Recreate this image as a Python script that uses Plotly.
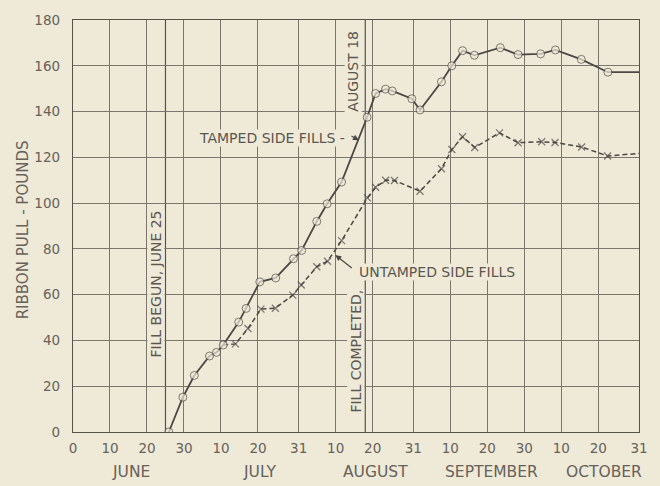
import plotly.graph_objects as go

# Day numbers counted from May 31 (June d = d, July d = 30+d, Aug d = 61+d, Sep d = 92+d, Oct d = 122+d)
tamped_days = [25.9, 29.7, 32.8, 36.9, 38.8, 40.6, 44.8, 46.8, 50.5, 54.8, 59.6, 61.8, 65.9, 68.7,
               72.6, 79.5, 81.8, 84.5, 86.3, 91.6, 93.8, 99.6, 102.4, 105.3, 108.5, 115.5, 120.3,
               126.4, 130.4, 137.4, 144.6, 153]
tamped_vals = [0, 15.2, 24.7, 33.2, 34.8, 38, 48, 54, 65.6, 67.3, 75.7, 79.3, 92, 99.7,
               109.2, 137.5, 147.9, 149.8, 149, 145.6, 140.7, 153, 160, 166.6, 164.6, 167.9, 164.9,
               165.2, 166.9, 162.8, 157.2, 157.2]

untamped_days = [40.6, 43.9, 47.3, 50.8, 54.7, 59.4, 61.7, 65.9, 68.8, 72.6, 79.6, 81.8, 84.5, 86.9,
                 93.8, 99.6, 102.4, 105.3, 108.6, 115.3, 120.3, 126.7, 130.3, 137.5, 144.5, 153]
untamped_vals = [38, 38.5, 45.2, 53.7, 54.1, 59.8, 64.2, 72.2, 74.6, 83.6, 102.3, 106.9, 110, 109.9,
                 105.2, 115, 123.4, 129, 124.3, 130.7, 126.4, 126.8, 126.5, 124.5, 120.6, 121.7]

tick_days = [0, 10, 20, 30, 40, 50, 61, 71, 81, 92, 102, 112, 122, 132, 142, 153]
tick_text = ["0", "10", "20", "30", "10", "20", "31", "10", "20", "31", "10", "20", "30", "10", "20", "31"]

months = ["JUNE", "JULY", "AUGUST", "SEPTEMBER", "OCTOBER"]
month_pos = [15.8, 50.3, 81.8, 113.0, 143.5]

event_days = [25, 79]

BG = "#efe9d8"
INK = "#4a4844"
GRID = "#7a766d"
TXT = "#5a5750"
FONT = "DejaVu Sans"

fig = go.Figure()

fig.add_trace(go.Scatter(
    x=untamped_days, y=untamped_vals, mode="lines+markers",
    line=dict(color=INK, width=1.5, dash="5px,3px"),
    marker=dict(symbol="x-thin-open", size=[0] + [7] * (len(untamped_days) - 2) + [0],
                line=dict(color=INK, width=1.3), color=INK),
    showlegend=False, hoverinfo="skip"))

fig.add_trace(go.Scatter(
    x=tamped_days, y=tamped_vals, mode="lines+markers",
    line=dict(color=INK, width=1.8),
    marker=dict(symbol="circle", size=[8] * (len(tamped_days) - 1) + [0],
                color=BG, line=dict(color=INK, width=1)),
    showlegend=False, hoverinfo="skip"))

for d in event_days:
    fig.add_shape(type="line", x0=d, x1=d, y0=0, y1=180, xref="x", yref="y",
                  line=dict(color="#55524c", width=1.2), layer="below")

ann_font = dict(family=FONT, size=14, color=TXT)

fig.add_annotation(x=22.5, y=64.5, text="FILL BEGUN, JUNE 25", textangle=-90, showarrow=False,
                   font=ann_font, bgcolor=BG, borderpad=0)
fig.add_annotation(x=76.4, y=35.4, text="FILL COMPLETED,", textangle=-90, showarrow=False,
                   font=ann_font, bgcolor=BG, borderpad=0)
fig.add_annotation(x=75.8, y=157.6, text="AUGUST 18", textangle=-90, showarrow=False,
                   font=ann_font, bgcolor=BG, borderpad=0)
fig.add_annotation(x=53.7, y=128.6, text="TAMPED SIDE FILLS -", showarrow=False,
                   font=ann_font, bgcolor=BG, borderpad=0)
fig.add_annotation(x=77.3, y=127.5, text="", showarrow=True, ax=-9, ay=-5,
                   arrowhead=2, arrowsize=1, arrowwidth=1.2, arrowcolor=INK)
fig.add_annotation(x=98.5, y=69.7, text="UNTAMPED SIDE FILLS", showarrow=False,
                   font=ann_font, bgcolor=BG, borderpad=0)
fig.add_annotation(x=70.9, y=77.3, text="", showarrow=True, ax=18, ay=14,
                   arrowhead=2, arrowsize=1, arrowwidth=1.2, arrowcolor=INK)

for m, p in zip(months, month_pos):
    fig.add_annotation(x=p, y=-0.098, xref="x", yref="paper", text=m, showarrow=False,
                       xanchor="center", yanchor="middle",
                       font=dict(family=FONT, size=15.5, color="#66625a"))

fig.add_annotation(x=-0.088, y=0.49, xref="paper", yref="paper", text="RIBBON PULL - POUNDS",
                   xanchor="center", yanchor="middle",
                   textangle=-90, showarrow=False, font=dict(family=FONT, size=15, color="#66625a"))

fig.update_layout(
    width=660, height=486,
    margin=dict(l=73, r=17, t=15, b=54),
    paper_bgcolor=BG, plot_bgcolor=BG,
    xaxis=dict(range=[0, 153], tickvals=tick_days, ticktext=tick_text,
               showgrid=True, gridcolor=GRID, gridwidth=1, zeroline=False,
               showline=True, linecolor="#55524c", linewidth=1.3, mirror=True,
               ticks="", ticklabelstandoff=4,
               tickfont=dict(family=FONT, size=13.5, color="#66625a")),
    yaxis=dict(range=[0, 180], tickvals=list(range(0, 181, 20)),
               showgrid=True, gridcolor=GRID, gridwidth=1, zeroline=False,
               showline=True, linecolor="#55524c", linewidth=1.3, mirror=True,
               ticks="", ticklabelstandoff=9,
               tickfont=dict(family=FONT, size=13.5, color="#66625a")),
)

fig.write_html("out.html")
